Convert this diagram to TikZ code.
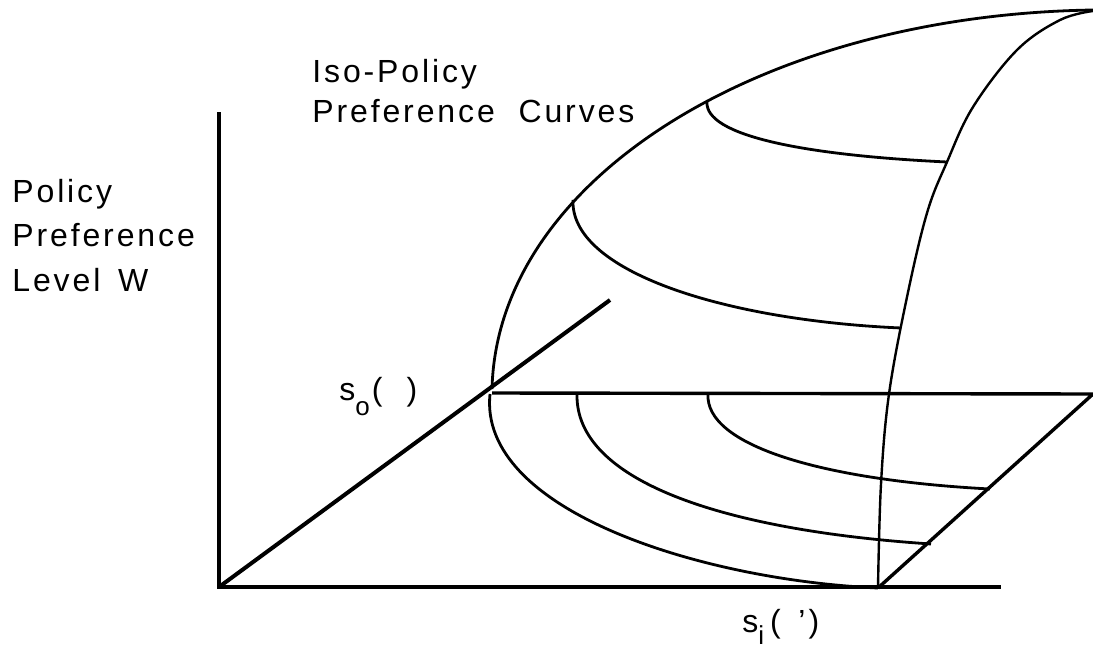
\documentclass[tikz,border=0pt]{standalone}
\usepackage{fontspec}
\setmainfont{Liberation Sans}
\usetikzlibrary{positioning}

\begin{document}
\begin{tikzpicture}[
  x=0.5pt, y=-0.5pt,
  every node/.style={inner sep=0pt, anchor=base west},
  lbl/.style={font=\fontsize{16}{18}\selectfont\addfontfeature{LetterSpace=9}},
  sym/.style={font=\fontsize{16}{18}\selectfont},
  axisline/.style={line width=2pt},
  edgeline/.style={line width=1.7pt},
  curveline/.style={line width=1.4pt, line join=round},
  meridian/.style={line width=1.2pt}
]
\useasboundingbox (0,0) rectangle (1093,653);

% axes and the base plane
\coordinate (O) at (219,587);
\coordinate (Wtop) at (219,112);
\coordinate (Send) at (1001,587);
\coordinate (Dend) at (610,300);
\coordinate (P0) at (492,393);
\coordinate (P1) at (1093,394);
\coordinate (B) at (878,588);
\coordinate (Peak) at (1093,10);

\draw[axisline] (Wtop) -- (O) -- (Send);
\draw[axisline] (O) -- (Dend);
\draw[edgeline] (P0) -- (P1) -- (B);

% preference surface
\draw[curveline] (492,389) .. controls (497,180) and (760,15) .. (Peak);
\draw[meridian] plot[smooth, tension=0.6] coordinates {(1093,11) (1060,20) (1017,50) (973,107) (947,162) (927,213) (907,297) (889,394) (881,484) (878,588)};
\draw[curveline] (707,102) .. controls (705,135) and (800,155) .. (947,162);
\draw[curveline] (573,200) .. controls (570,270) and (720,320) .. (901,328);

% iso-policy curves on the base plane
\draw[curveline] (490,394) .. controls (478,510) and (700,580) .. (B);
\draw[curveline] (577,394) .. controls (575,480) and (720,530) .. (931,544);
\draw[curveline] (708,394) .. controls (705,445) and (820,480) .. (990,489);

% labels
\node[lbl] (iso1) at (312,82) {Iso-Policy};
\node[lbl] (iso2) at (312,122) {Preference\hspace{6pt} Curves};
\node[lbl] (ylab1) at (12,202) {Policy};
\node[lbl] (ylab2) at (12,246) {Preference};
\node[lbl] (ylab3) at (12,291) {Level\hspace{3pt} W};
\node[sym] (so) at (339,400) {s\raisebox{-7.5pt}{\fontsize{13}{13}\selectfont o}\hspace{1pt}(\hspace{0.75em})};
\node[sym] (si) at (742,632) {s\raisebox{-6pt}{\fontsize{13}{13}\selectfont i}\hspace{3pt}(\hspace{0.55em}'\hspace{0.1em})};
\end{tikzpicture}
\end{document}
